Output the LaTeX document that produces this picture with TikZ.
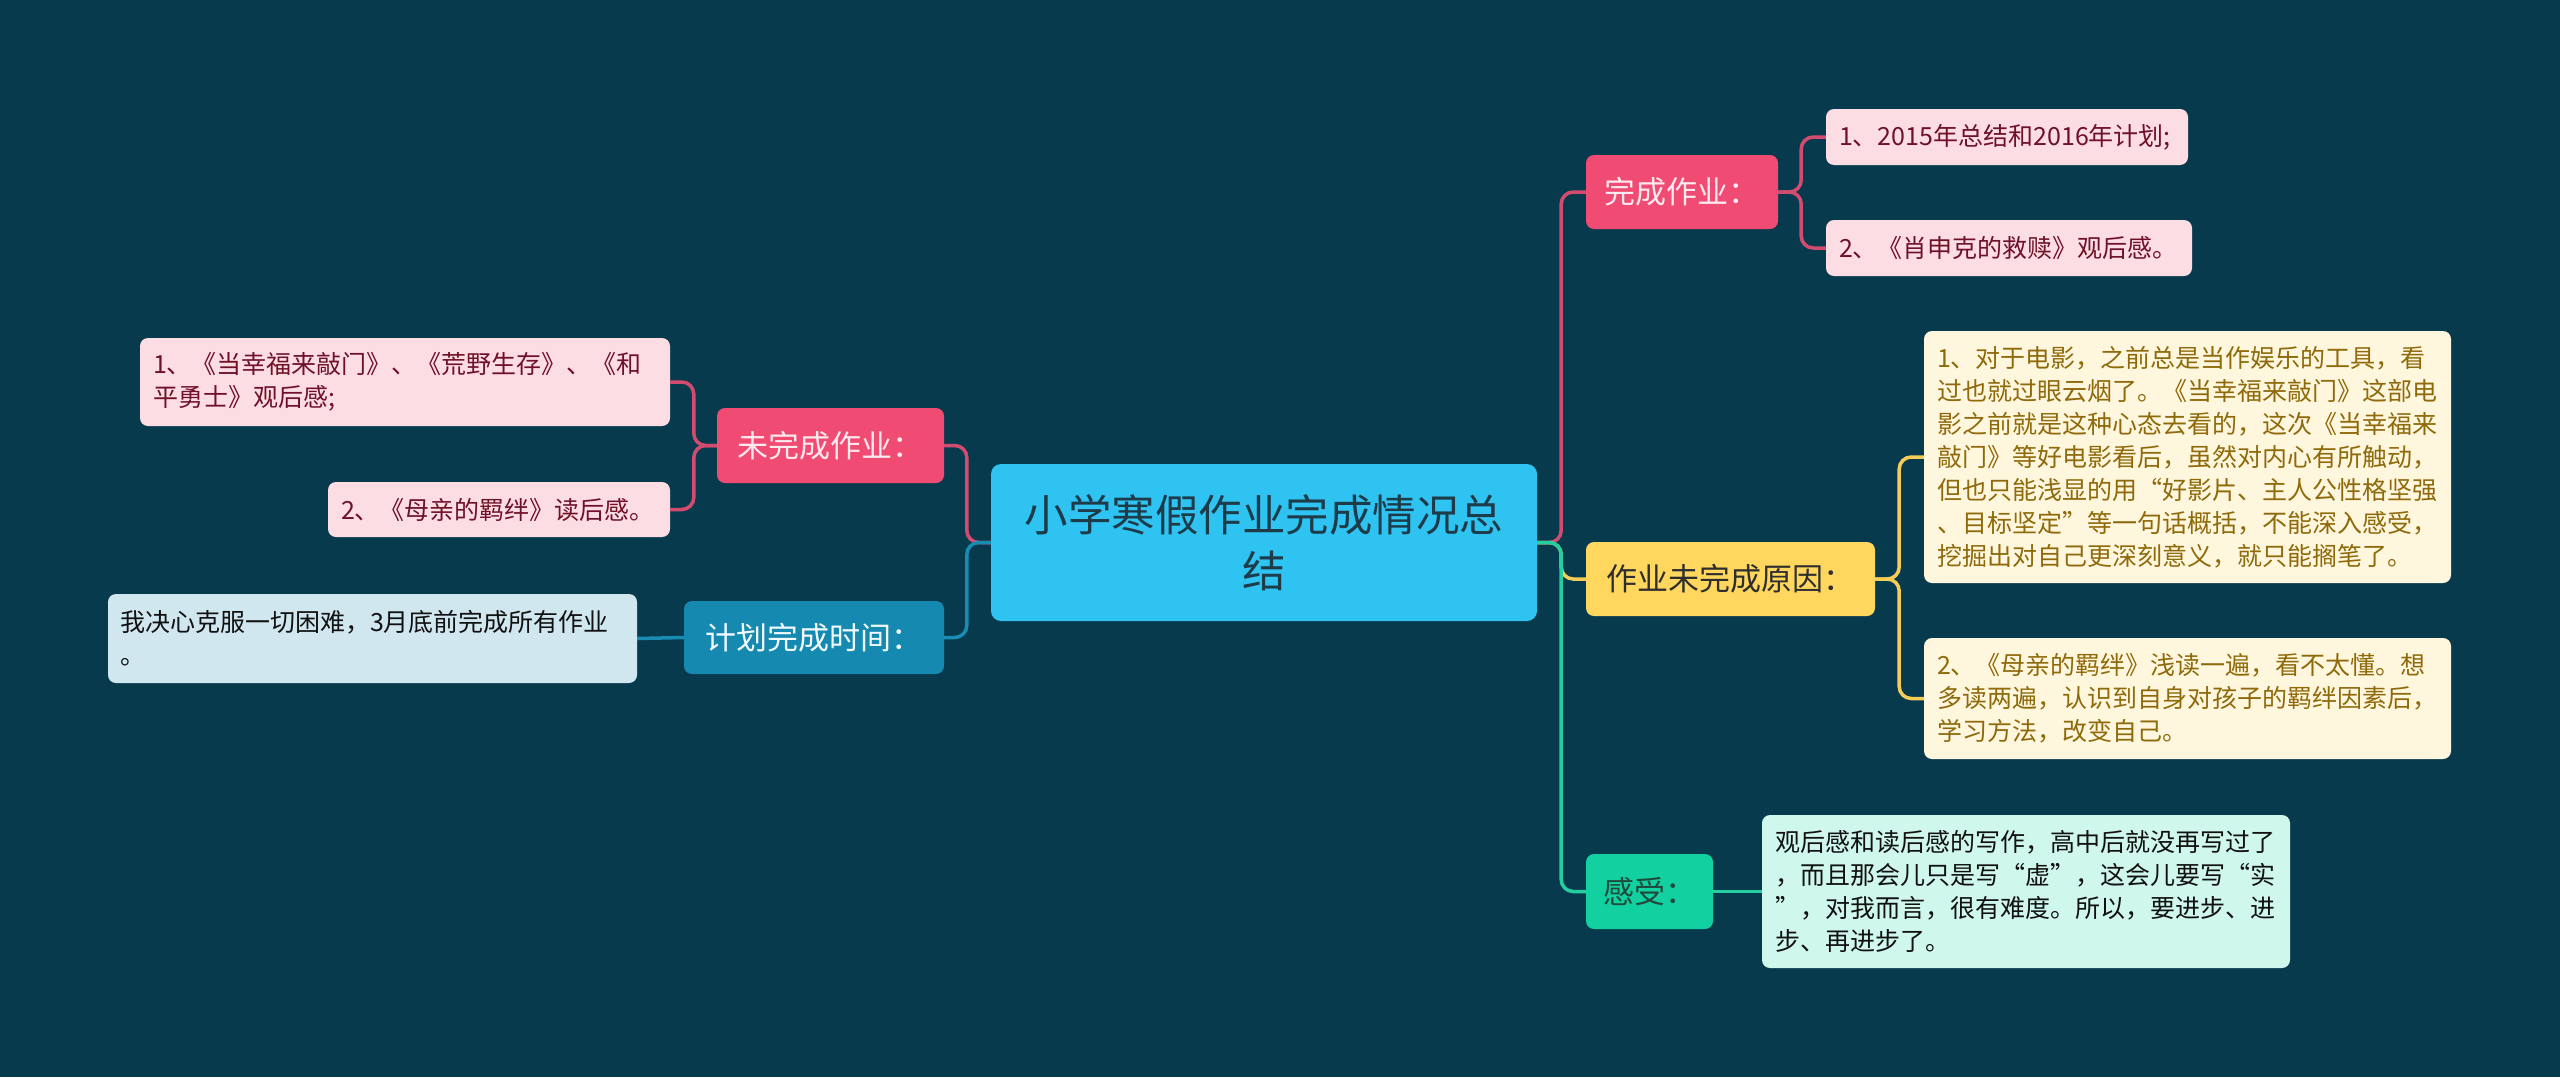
\documentclass[tikz,border=0pt]{standalone}
\usepackage{fontspec}
\setmainfont{Noto Sans CJK SC}
\definecolor{bg}{HTML}{073A4D}
\definecolor{centerfill}{HTML}{2FC3F2}
\definecolor{centertext}{HTML}{1E3B4A}
\definecolor{pinkmain}{HTML}{EF4B73}
\definecolor{pinkmaintext}{HTML}{FFE8EE}
\definecolor{pinkleaf}{HTML}{FDDDE4}
\definecolor{pinkleaftext}{HTML}{6F1228}
\definecolor{pinkline}{HTML}{D44B70}
\definecolor{yelmain}{HTML}{FFD75E}
\definecolor{yelmaintext}{HTML}{2E2E2E}
\definecolor{yelleaf}{HTML}{FFF6DE}
\definecolor{yelleaftext}{HTML}{8F6A0A}
\definecolor{yelline}{HTML}{F6CC58}
\definecolor{grnmain}{HTML}{12D0A0}
\definecolor{grnmaintext}{HTML}{1F4A3C}
\definecolor{grnleaf}{HTML}{D0F7EC}
\definecolor{grnleaftext}{HTML}{111111}
\definecolor{grnline}{HTML}{25CE9E}
\definecolor{blumain}{HTML}{1689B1}
\definecolor{blumaintext}{HTML}{F0FAFF}
\definecolor{bluleaf}{HTML}{D1E7EF}
\definecolor{bluleaftext}{HTML}{111111}
\definecolor{bluline}{HTML}{1A8BB2}
\tikzset{
  centerbox/.style={fill=centerfill, text=centertext, rounded corners=10pt,
    minimum width=546pt, minimum height=157pt, align=center,
    font=\fontsize{43.5}{56}\selectfont, inner sep=0pt},
  mainbox/.style={rounded corners=8pt, inner sep=0pt, align=center,
    font=\fontsize{31}{38}\selectfont},
  leafbox/.style={rounded corners=8pt, inner xsep=13pt, inner ysep=0pt, align=left,
    font=\fontsize{25}{33}\selectfont},
  conn/.style={line width=3.5pt, rounded corners=12pt},
}
\begin{document}
\begin{tikzpicture}[x=1pt,y=-1pt]
\useasboundingbox (0,0) rectangle (2560,1077);
\fill[bg] (0,0) rectangle (2560,1077);

% center
\node[centerbox] (c) at (1264,542.5) {小学寒假作业完成情况总\\结};

% right main branches
\node[mainbox, fill=pinkmain, text=pinkmaintext, minimum width=192pt, minimum height=74pt] (wc) at (1682,192) {完成作业：};
\node[mainbox, fill=yelmain, text=yelmaintext, minimum width=289pt, minimum height=74pt] (wy) at (1730.5,579) {作业未完成原因：};
\node[mainbox, fill=grnmain, text=grnmaintext, minimum width=127pt, minimum height=75pt] (wg) at (1649.5,891.5) {感受：};

% left main branches
\node[mainbox, fill=pinkmain, text=pinkmaintext, minimum width=227pt, minimum height=75pt] (wn) at (830.5,445.5) {未完成作业：};
\node[mainbox, fill=blumain, text=blumaintext, minimum width=260pt, minimum height=73pt] (wt) at (814,637.5) {计划完成时间：};

% right leaves
\node[leafbox, fill=pinkleaf, text=pinkleaftext, text width=336pt, minimum height=56pt] (p1) at (2007,137) {1、2015年总结和2016年计划;};
\node[leafbox, fill=pinkleaf, text=pinkleaftext, text width=340pt, minimum height=56pt] (p2) at (2009,248) {2、《肖申克的救赎》观后感。};
\node[leafbox, fill=yelleaf, text=yelleaftext, text width=501pt, minimum height=252pt] (y1) at (2187.5,457) {1、对于电影，之前总是当作娱乐的工具，看\\过也就过眼云烟了。《当幸福来敲门》这部电\\影之前就是这种心态去看的，这次《当幸福来\\敲门》等好电影看后，虽然对内心有所触动，\\但也只能浅显的用“好影片、主人公性格坚强\\、目标坚定”等一句话概括，不能深入感受，\\挖掘出对自己更深刻意义，就只能搁笔了。};
\node[leafbox, fill=yelleaf, text=yelleaftext, text width=501pt, minimum height=121pt] (y2) at (2187.5,698.5) {2、《母亲的羁绊》浅读一遍，看不太懂。想\\多读两遍，认识到自身对孩子的羁绊因素后，\\学习方法，改变自己。};
\node[leafbox, fill=grnleaf, text=grnleaftext, text width=502pt, minimum height=153pt] (g1) at (2026,891.5) {观后感和读后感的写作，高中后就没再写过了\\，而且那会儿只是写“虚”，这会儿要写“实\\”，对我而言，很有难度。所以，要进步、进\\步、再进步了。};

% left leaves
\node[leafbox, fill=pinkleaf, text=pinkleaftext, text width=504pt, minimum height=88pt] (l1) at (405,382) {1、《当幸福来敲门》、《荒野生存》、《和\\平勇士》观后感;};
\node[leafbox, fill=pinkleaf, text=pinkleaftext, text width=316pt, minimum height=55pt] (l2) at (499,509.5) {2、《母亲的羁绊》读后感。};
\node[leafbox, fill=bluleaf, text=bluleaftext, text width=505pt, minimum height=89pt, inner xsep=12pt] (b1) at (372.5,638.5) {我决心克服一切困难，3月底前完成所有作业\\。};

% connectors from center (right)
\draw[conn, pinkline] (c.east) -- ++(24,0) |- (wc.west);
\draw[conn, yelline] (c.east) -- ++(24,0) |- (wy.west);
\draw[conn, grnline] (c.east) -- ++(24,0) |- (wg.west);
% connectors from center (left)
\draw[conn, pinkline] (c.west) -- ++(-24,0) |- (wn.east);
\draw[conn, bluline] (c.west) -- ++(-24,0) |- (wt.east);

% right branch to leaves
\draw[conn, pinkline] (wc.east) -- ++(23,0) |- (p1.west);
\draw[conn, pinkline] (wc.east) -- ++(23,0) |- (p2.west);
\draw[conn, yelline] (wy.east) -- ++(24,0) |- (y1.west);
\draw[conn, yelline] (wy.east) -- ++(24,0) |- (y2.west);
\draw[conn, grnline] (wg.east) -- (g1.west);

% left branch to leaves
\draw[conn, pinkline] (wn.west) -- ++(-23,0) |- (l1.east);
\draw[conn, pinkline] (wn.west) -- ++(-23,0) |- (l2.east);
\draw[conn, bluline] (wt.west) -- (b1.east);
\end{tikzpicture}
\end{document}
